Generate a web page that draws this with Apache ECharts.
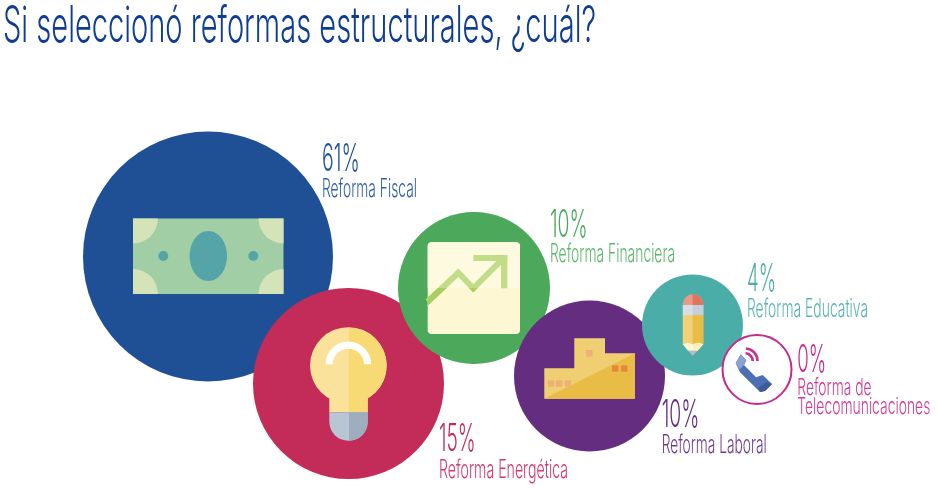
<!DOCTYPE html>
<html>
<head>
<meta charset="utf-8">
<style>html,body{margin:0;padding:0;background:#fff}#c{width:938px;height:488px}</style>
<script src="https://cdn.jsdelivr.net/npm/echarts@6/dist/echarts.min.js"></script>
</head>
<body>
<div id="c"></div>
<script>
// ---- data ----
var titleText = 'Si seleccionó reformas estructurales, ¿cuál?';
var categories = ['Reforma Fiscal', 'Reforma Energética', 'Reforma Financiera', 'Reforma Laboral', 'Reforma Educativa', 'Reforma de\nTelecomunicaciones'];
var values = [61, 15, 10, 10, 4, 0];

// ---- layout (bubble position and size on a canvas-sized axis) ----
var bubbleX = [208, 348.5, 474, 589.5, 692.5, 757];
var bubbleY = [256.5, 383.5, 288, 376, 325, 369.5];
var bubbleD = [250, 191, 152, 151, 101, 69];
var bubbleFill = ['#1f5096', '#c32c58', '#4ca95c', '#652d80', '#4bada8', '#ffffff'];
var textFill = ['#1f5096', '#c32c58', '#4ca95c', '#652d80', '#4bada8', '#c52a8c'];
var labelFill = ['#2f5fa8', '#d6386c', '#5cb86c', '#6f3a8c', '#58b5b0', '#cf3c98'];
var textX = [322, 439, 550, 661.7, 747, 797.3];
var pctBase = [170.7, 451, 236.7, 426.7, 290.7, 371.7];
var pctWidth = [37.7, 36.7, 37.7, 37.7, 29, 29];
var labelBase = [[196.7], [477.7], [262.3], [453], [316.7], [394.7, 414]];
var labelWidth = [[95], [129], [125], [105], [121], [74.3, 133]];
var labelSize = [25, 25, 25, 25, 25, 23];
var pctSize = 38, titleSize = 50;
var FONT = 'Inter', WEIGHT = 300, MID = 0.30;

var PI = Math.PI;
var ctx = document.createElement('canvas').getContext('2d');
function fitText(str, size, width) {
  ctx.font = WEIGHT + ' ' + size + 'px ' + FONT;
  return width / ctx.measureText(str).width;
}
function textEl(str, x, baseline, size, width, fill) {
  return {
    type: 'text', x: x, y: baseline - MID * size, scaleX: fitText(str, size, width), silent: true,
    style: { text: str, x: 0, y: 0, fontFamily: FONT, fontWeight: WEIGHT, fontSize: size, fill: fill, align: 'left', verticalAlign: 'middle' }
  };
}
function R(x, y, w, h, fill, r) { return { type: 'rect', shape: { x: x, y: y, width: w, height: h, r: r || 0 }, style: { fill: fill } }; }
function P(points, fill) { return { type: 'polygon', shape: { points: points }, style: { fill: fill } }; }
function S(cx, cy, r, a, b, fill) { return { type: 'sector', shape: { cx: cx, cy: cy, r: r, r0: 0, startAngle: a, endAngle: b, clockwise: true }, style: { fill: fill } }; }
function C(cx, cy, r, fill) { return { type: 'circle', shape: { cx: cx, cy: cy, r: r }, style: { fill: fill } }; }
function A(cx, cy, r, a, b, stroke, lw) { return { type: 'arc', shape: { cx: cx, cy: cy, r: r, startAngle: a, endAngle: b, clockwise: true }, style: { fill: 'none', stroke: stroke, lineWidth: lw } }; }

var iconShapes = [
  function bill() {
    var corner = '#d5e3b9';
    return [
      R(-75, -38, 150.5, 75.5, '#a2cea5'),
      S(-75, -38, 25, 0, PI / 2, corner), S(75.5, -38, 25, PI / 2, PI, corner),
      S(-75, 37.5, 25, -PI / 2, 0, corner), S(75.5, 37.5, 25, PI, PI * 1.5, corner),
      { type: 'ellipse', shape: { cx: 0.3, cy: -0.5, rx: 18.7, ry: 25 }, style: { fill: '#55a5a8' } },
      C(-44.7, -0.5, 5, '#55a5a8'), C(45.3, -0.5, 5, '#55a5a8')
    ];
  },
  function bulb() {
    return [
      C(-0.15, -18, 38.3, '#fbe29b'),
      R(-19.2, 5, 38.4, 23.8, '#fbe29b'),
      S(0.5, -18, 37.7, -PI / 2, PI / 2, '#f8da75'),
      R(0.5, 5, 18.7, 23.8, '#f8da75'),
      R(-19.2, 28.8, 38.4, 28.4, '#b8c5d3', [0, 0, 19, 19]),
      R(0.5, 28.8, 18.7, 28.4, '#9eaebf', [0, 0, 18.7, 0]),
      A(-0.15, -19.2, 19.2, PI, PI * 2, '#ffffff', 7.2)
    ];
  },
  function chart() {
    var lite = '#c1dd87', dark = '#a9cf62';
    return [
      R(-46.3, -45.7, 92.3, 91.7, '#fdf7d3', 4),
      R(-46.3, -45.7, 92.3, 45.7, '#fefadf', [4, 4, 0, 0]),
      { type: 'polyline', shape: { points: [[-46.3, 13.7], [-15.7, -15.3], [-0.7, 0.3], [31, -31.3]] }, style: { fill: 'none', stroke: lite, lineWidth: 6, lineJoin: 'miter' } },
      R(-0.7, -33, 34, 6, lite), R(27, -33, 6.3, 33.3, lite),
      P([[-46.3, 9.55], [-36.2, 0], [-27.4, 0], [-46.3, 17.85]], dark),
      P([[-5, 0], [3.7, 0], [-0.7, 4.45]], dark)
    ];
  },
  function building() {
    return [
      P([[-45.2, 22.7], [-45.2, -7.7], [-15.2, -7.7], [-15.2, -37.7], [15.5, -37.7], [15.5, -22.7], [45.5, -22.7], [45.5, 22.7]], '#f0cf73'),
      P([[-45.2, 22.7], [45.5, -22.7], [45.5, 22.7]], '#e8bc45'),
      R(-41.8, 4.3, 6.5, 6.4, '#eeb073'), R(-33.5, 4.3, 6.5, 6.4, '#eeb073'), R(-24.8, 4.3, 6.5, 6.4, '#eeb073'),
      R(-3.5, -26, 6.5, 6.6, '#eeb073'),
      R(22.5, -10.7, 6.5, 6.4, '#e8873c'), R(31.5, -10.7, 6.5, 6.4, '#e8873c')
    ];
  },
  function pencil() {
    return [
      R(-9.8, -30.7, 20.6, 10.7, '#e89a88', [10, 10, 0, 0]), R(0.2, -30.7, 10.6, 10.7, '#e4735d', [0, 10.6, 0, 0]),
      R(-9.8, -20, 20.6, 10, '#d7dfe6'), R(0.2, -20, 10.6, 10, '#c4cfdb'),
      R(-9.8, -10, 20.6, 29.3, '#f0d078'), R(0.2, -10, 10.6, 29.3, '#e8bc45'),
      P([[-9.8, 19.3], [-5, 17.8], [0.2, 19.3], [5.5, 17.8], [10.8, 19.3], [5, 25.7], [-4.5, 25.7]], '#fff8d8'),
      P([[0.2, 19.3], [5.5, 17.8], [10.8, 19.3], [5, 25.7], [0.2, 25.7]], '#fdf0bb'),
      P([[-4.5, 25.7], [5, 25.7], [0.2, 30.7]], '#b6bdc6')
    ];
  },
  function phone() {
    return [
      P([[-16.3, -15.2], [-10.7, -9.2], [-13, -4.5], [-1, 7.8], [5.7, 5.5], [15, 14.5], [8, 21.5], [3, 22.5], [-17, 2.8], [-21.3, -6.2]], '#4d6fb3'),
      P([[-16.3, -15.2], [-10.7, -9.2], [-13, -4.5], [-17.5, 0], [-21.3, -6.2]], '#8aa2cf'),
      P([[15, 14.5], [8, 21.5], [3, 22.5], [1.3, 18.2], [9.7, 12.8]], '#3c5a9a'),
      A(-12, -8.5, 7.7, -1.5, 0, '#c92f8d', 2.6), A(-12, -8.5, 12.5, -1.5, 0, '#c92f8d', 2.6)
    ];
  }
];

var points = bubbleX.map(function (x, i) { return [x, bubbleY[i]]; });

var option = {
  animation: false,
  backgroundColor: '#ffffff',
  grid: { left: 0, right: 0, top: 0, bottom: 0 },
  xAxis: { type: 'value', min: 0, max: 938, show: false },
  yAxis: { type: 'value', min: 0, max: 488, inverse: true, show: false },
  series: [
    {
      name: 'Burbujas', type: 'scatter', silent: true, clip: false, z: 2,
      data: points.map(function (p, i) {
        var ring = i === 5;
        return {
          name: categories[i], value: p, symbolSize: bubbleD[i],
          itemStyle: { color: bubbleFill[i], opacity: 1, borderColor: ring ? '#c52a8c' : null, borderWidth: ring ? 2 : 0 }
        };
      })
    },
    {
      name: 'Iconos', type: 'custom', silent: true, clip: false, z: 3,
      data: points,
      renderItem: function (params, api) {
        var c = api.coord([api.value(0), api.value(1)]);
        return { type: 'group', x: c[0], y: c[1], children: iconShapes[params.dataIndex]() };
      }
    },
    {
      name: 'Textos', type: 'custom', silent: true, clip: false, z: 4,
      data: points,
      renderItem: function (params, api) {
        var i = params.dataIndex;
        var kids = [];
        var pt = function (x, y) { return api.coord([x, y]); };
        var p = pt(textX[i], pctBase[i]);
        kids.push(textEl(values[i] + '%', p[0], p[1], pctSize, pctWidth[i], textFill[i]));
        categories[i].split('\n').forEach(function (line, k) {
          var q = pt(textX[i], labelBase[i][k]);
          kids.push(textEl(line, q[0], q[1], labelSize[i], labelWidth[i][k], labelFill[i]));
        });
        return { type: 'group', children: kids };
      }
    }
  ],
  graphic: [textEl(titleText, 3, 41.5, titleSize, 593, '#0f3d91')]
};
echarts.init(document.getElementById('c')).setOption(option);
</script>
</body>
</html>
